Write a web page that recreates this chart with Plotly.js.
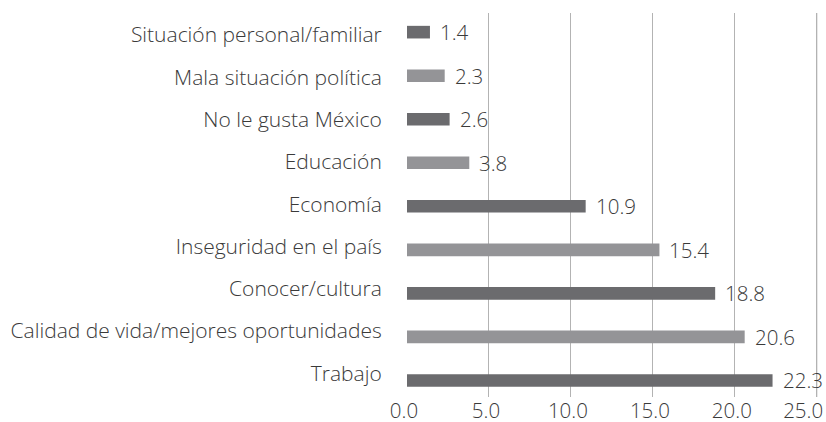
<!DOCTYPE html>
<html>
<head>
<meta charset="utf-8">
<script src="https://cdn.plot.ly/plotly-3.0.1.min.js"></script>
<style>html,body{margin:0;padding:0;background:#fff;overflow:hidden;}#chart{width:826px;height:422px;}</style>
</head>
<body>
<div id="chart"></div>
<script>
// bottom-to-top order
const categories = ["Trabajo", "Calidad de vida/mejores oportunidades", "Conocer/cultura", "Inseguridad en el país", "Economía", "Educación", "No le gusta México", "Mala situación política", "Situación personal/familiar"];
const values = [22.3, 20.6, 18.8, 15.4, 10.9, 3.8, 2.6, 2.3, 1.4];
const valueLabels = ["22.3", "20.6", "18.8", "15.4", "10.9", "3.8", "2.6", "2.3", "1.4"];
const xTickVals = [0, 5, 10, 15, 20, 25];
const xTickText = ["0.0", "5.0", "10.0", "15.0", "20.0", "25.0\u00a0\u00a0\u00a0\u00a0"];

const dark = "#6b6b6e", light = "#949497";
const colors = categories.map((c, i) => i % 2 === 0 ? dark : light);
const txtColor = "#3a3a3a";
const gridColor = "#b3b3b3";
const fontFam = "'Open Sans', sans-serif";
const fsize = 20.5;
const idx = categories.map((c, i) => i);

const trace = {
  type: "bar", orientation: "h",
  y: categories, x: values,
  marker: {color: colors},
  width: 0.29,
  hoverinfo: "none"
};

// invisible helper so the label axis is drawn
const labelTrace = {
  type: "scatter", mode: "none", x: values, y: idx, yaxis: "y2",
  hoverinfo: "skip", showlegend: false
};

const annotations = categories.map((c, i) => ({
  x: values[i], y: c, xref: "x", yref: "y",
  text: valueLabels[i], showarrow: false, xanchor: "left", xshift: 8,
  font: {family: fontFam, size: fsize, color: txtColor, weight: 300}
}));

const layout = {
  width: 826, height: 422,
  margin: {l: 407, r: 1, t: 13, b: 25, pad: 0},
  paper_bgcolor: "#fff", plot_bgcolor: "#fff",
  showlegend: false,
  bargap: 0.71,
  xaxis: {
    range: [0, 25.5], tickvals: xTickVals, ticktext: xTickText,
    showgrid: true, gridcolor: gridColor, gridwidth: 1,
    zeroline: false, showline: false,
    ticks: "", ticklabelstandoff: -1, ticklabelshift: -3,
    ticklabeloverflow: "allow",
    tickfont: {family: fontFam, size: fsize, color: txtColor, weight: 300},
    fixedrange: true
  },
  yaxis: {
    type: "category", range: [-0.38, 8.44],
    showgrid: false, zeroline: false, showline: false,
    showticklabels: false, ticks: "",
    fixedrange: true
  },
  yaxis2: {
    overlaying: "y", side: "left", type: "linear",
    range: [-0.559, 8.519],
    tickvals: idx, ticktext: categories,
    showgrid: false, zeroline: false, showline: false,
    ticks: "outside", ticklen: 20, tickcolor: "rgba(0,0,0,0)",
    tickfont: {family: fontFam, size: 21, color: txtColor, weight: 300},
    fixedrange: true
  },
  shapes: [{
    type: "line", xref: "x", yref: "paper", x0: 25, x1: 25, y0: 0, y1: 1,
    line: {color: gridColor, width: 1}, layer: "above"
  }],
  annotations: annotations
};

Plotly.newPlot("chart", [trace, labelTrace], layout, {displayModeBar: false, staticPlot: true});
</script>
</body>
</html>
